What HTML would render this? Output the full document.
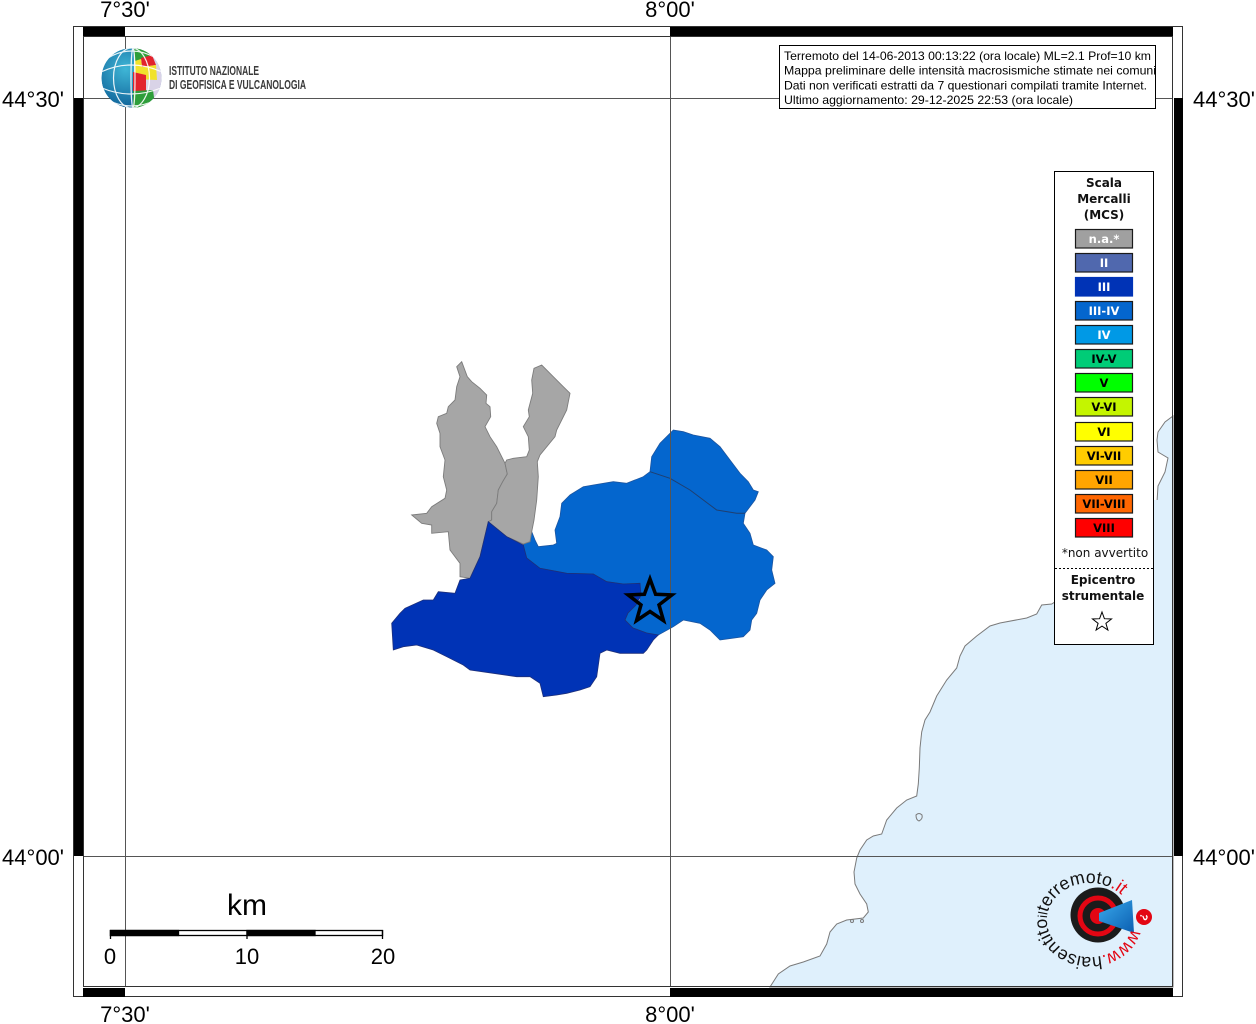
<!DOCTYPE html>
<html><head><meta charset="utf-8"><style>
html,body{margin:0;padding:0;background:#fff;}
svg{display:block;}
</style></head><body>
<svg width="1256" height="1024" viewBox="0 0 1256 1024" xmlns="http://www.w3.org/2000/svg">
<defs>
<radialGradient id="gg" cx="0.4" cy="0.35" r="0.7">
<stop offset="0" stop-color="#3fb6d6"/><stop offset="1" stop-color="#0c5d95"/>
</radialGradient>
<clipPath id="gc"><circle cx="131.5" cy="78" r="30"/></clipPath>
<linearGradient id="cone" x1="0" y1="0" x2="1" y2="1">
<stop offset="0" stop-color="#39a9ec"/><stop offset="1" stop-color="#0b5eb0"/>
</linearGradient>
</defs>
<rect width="1256" height="1024" fill="#fff"/>

<!-- sea -->
<path d="M1173,416 L1165,422 L1158,432 L1157,440 L1158,452 L1168,458 L1165,472 L1158,486 L1157,502 L1120,560 L1051.7,604 L1041.7,605 L1036.7,614 L1026.7,618 L1000,623 L990,626 L976.7,636 L965,646 L960,656 L956.7,668 L946.7,680 L936.7,696 L930,712 L925,720 L921.7,732 L920,748 L919.3,768 L918.3,784 L916.7,796 L906.7,800 L896.7,808 L886.7,820 L881.7,834 L873.3,836 L866.7,840 L860,850 L856.7,858 L854,872 L855,884 L860,894 L866.7,904 L868.3,912 L863.3,918 L846.7,920 L836.7,924 L830,932 L826.7,944 L820,956 L803.3,962 L790,966 L778.3,974 L770,987 L1173,987 Z" fill="#dff0fc" stroke="#7a7a7a" stroke-width="1"/>
<rect x="1153" y="500" width="20" height="150" fill="#dff0fc"/>
<path d="M916,815 q3,-3 6,0 q1,4 -3,6 q-3,-1 -3,-6z" fill="none" stroke="#7a7a7a" stroke-width="1"/>
<circle cx="852" cy="921" r="1.5" fill="none" stroke="#7a7a7a" stroke-width="1"/>
<circle cx="862" cy="921" r="1.5" fill="none" stroke="#7a7a7a" stroke-width="1"/>

<!-- light blue -->
<path d="M531.7,531.7 L535,540 L538.3,546.7 L553.3,545 L556.7,543.3 L555,530 L560,516.7 L561.7,503.3 L570,495 L583.3,486.7 L593.3,485 L613.3,481.7 L626.7,483.3 L643.3,476.7 L650,471.7 L651.7,456.7 L660,443.3 L673.3,430 L683.3,431.7 L693.3,435 L710,438.3 L720,446.7 L730,460 L740,473.3 L748.3,481.7 L753.3,490 L758.3,491.7 L755,500 L745,513.3 L743.3,523.3 L750,533.3 L753.3,545 L766.7,550 L773.3,556.7 L771.7,570 L775,583.3 L766.7,590 L760,600 L756.7,613.3 L751.7,620 L750,630 L743.3,636.7 L720,640 L710,630 L700,623.3 L683.3,620 L673.3,626.7 L658.3,635 L646.7,633 L633,628 L625,620 L628,613 L640,600 L640,583.3 L623.3,584 L606.7,581.7 L593.3,574 L566.7,573.3 L540,568.3 L526.7,560 L523.3,545 Z" fill="#0466ce" stroke="#1c55a0" stroke-width="0.8"/>
<path d="M650,471.7 L670,478.3 L690,490 L710,505 L716.7,510 L736.7,513.3 L745,513.3" fill="none" stroke="#1f3f70" stroke-width="1"/>

<!-- gray 1 -->
<path d="M461.7,361.7 L467.3,376.7 L471.7,381.7 L480,388.3 L486.7,395 L486,403.3 L490,406.7 L490.7,416.7 L485,426.7 L490,436.7 L496.7,446.7 L505,463.3 L507.3,474 L502.7,481.7 L498.3,490 L496.7,503.3 L491.7,511.7 L491.7,520 L488.3,521.7 L480,556.7 L470,578.3 L460,576.7 L460,563.3 L450,550 L448.3,531.7 L431.7,533.3 L431.7,525 L421.7,523.3 L411.7,515 L426.7,513.3 L431.7,506.7 L445,498.3 L446.7,490 L443.3,476.7 L445,460 L440,446.7 L440,433.3 L436.7,423.3 L438.3,416.7 L446.7,413.3 L448.3,406.7 L455,400 L456.7,386.7 L460,376.7 L456.7,366.7 Z" fill="#a6a6a6" stroke="#7c7c7c" stroke-width="0.9"/>
<!-- gray 2 -->
<path d="M505,463.3 L506.7,460 L513.3,458.3 L526.7,456.7 L529.3,450 L528.3,436.7 L523.3,426.7 L529.3,416.7 L528.3,410 L532.7,393.3 L531.7,380 L534,368.3 L541.7,365 L553.3,376.7 L563.3,386.7 L570,393.3 L566.7,410 L561.7,420 L556.7,430 L555,436.7 L540,455 L537.3,461.7 L538.3,476.7 L536.7,500 L534,520 L531.7,531.7 L530,541.7 L523.3,544 L506.7,536.7 L488.3,521.7 L491.7,520 L491.7,511.7 L496.7,503.3 L498.3,490 L502.7,481.7 L507.3,474 Z" fill="#a6a6a6" stroke="#7c7c7c" stroke-width="0.9"/>

<!-- dark blue -->
<path d="M488.3,521.7 L506.7,536.7 L523.3,545 L526.7,558 L540,568.3 L566.7,573.3 L593.3,574 L606.7,581.7 L623.3,584 L640,583.3 L641,595 L636,605 L628,613 L625,620 L633,628 L646.7,633 L658.3,635 L653.3,640 L646.7,650 L643.3,653.3 L620,653.3 L606.7,650 L600,653.3 L596.7,676.7 L590,686.7 L580,690 L566.7,693.3 L556.7,695 L543.3,696.7 L540,683.3 L530,676.7 L516.7,676.7 L493.3,673.3 L470,670 L463.3,665 L446.7,656.7 L433.3,650 L416.7,645 L403.3,646.7 L393.3,650 L391.7,623.3 L400,613.3 L405,608.3 L423.3,600 L433.3,600 L438.3,591.7 L455,593.3 L460,580 L470,578.3 L480,556.7 Z" fill="#0033b6" stroke="#1d2f7a" stroke-width="0.8"/>

<!-- grid -->
<g stroke="#555" stroke-width="1" fill="none">
<line x1="125.5" y1="36" x2="125.5" y2="987"/>
<line x1="670.5" y1="36" x2="670.5" y2="987"/>
<line x1="83" y1="98.5" x2="1173" y2="98.5"/>
<line x1="83" y1="856.5" x2="1173" y2="856.5"/>
</g>

<!-- epicenter star -->
<polygon points="650,579 655.6,594.3 671.9,594.9 659,604.9 663.5,620.6 650,611.5 636.5,620.6 641,604.9 628.1,594.9 644.4,594.3" fill="none" stroke="#000" stroke-width="3.5" stroke-linejoin="miter"/>

<!-- frame -->
<rect x="73.5" y="26.5" width="1109" height="970" fill="none" stroke="#333" stroke-width="1"/>
<rect x="83.5" y="36.5" width="1089" height="950" fill="none" stroke="#333" stroke-width="1"/>
<g fill="#000">
<rect x="83" y="27" width="42" height="9"/>
<rect x="670" y="27" width="503" height="9"/>
<rect x="83" y="988" width="42" height="9"/>
<rect x="670" y="988" width="503" height="9"/>
<rect x="74" y="98" width="9" height="758"/>
<rect x="1174" y="98" width="9" height="758"/>
</g>

<!-- labels -->
<g font-family="Liberation Sans, Arial, sans-serif" font-size="22" fill="#000">
<text x="125" y="17" text-anchor="middle">7°30'</text>
<text x="670" y="17" text-anchor="middle">8°00'</text>
<text x="125" y="1022" text-anchor="middle">7°30'</text>
<text x="670" y="1022" text-anchor="middle">8°00'</text>
<text x="64" y="107" text-anchor="end">44°30'</text>
<text x="64" y="865" text-anchor="end">44°00'</text>
<text x="1193" y="107">44°30'</text>
<text x="1193" y="865">44°00'</text>
</g>

<!-- INGV logo -->
<g clip-path="url(#gc)">
<circle cx="131.5" cy="78" r="30" fill="url(#gg)"/>
<rect x="134" y="46" width="32" height="66" fill="#d9d3e7"/>
<polygon points="134,46 149,46 151,57 135,61" fill="#2e9e3a"/>
<polygon points="141,58 152,55 156,65 142,67" fill="#e2232d"/>
<polygon points="135,61 141,59 142,67 156,65 157,80 134,79" fill="#f1e22c"/>
<polygon points="133,72 146,75 146,91 133,91" fill="#e2232d"/>
<polygon points="133,91 153,90 156,112 133,112" fill="#2e9e3a"/>
<g stroke="#fff" stroke-width="1.2" fill="none" opacity="0.9">
<ellipse cx="133" cy="78" rx="2" ry="30"/>
<ellipse cx="131.5" cy="78" rx="18" ry="30"/>
<path d="M101,72 Q131,58 162,72"/>
<path d="M102,88 Q131,100 161,88"/>
<path d="M108,58 Q131,44 156,58"/>
<path d="M108,100 Q131,112 156,100"/>
</g>
</g>
<g font-family="Liberation Sans, Arial, sans-serif" font-size="12.5" font-weight="bold" fill="#3a3a3a">
<text x="169" y="75" textLength="90" lengthAdjust="spacingAndGlyphs">ISTITUTO NAZIONALE</text>
<text x="169" y="89" textLength="137" lengthAdjust="spacingAndGlyphs">DI GEOFISICA E VULCANOLOGIA</text>
</g>

<!-- info box -->
<rect x="779.5" y="45.5" width="376" height="63" fill="#fff" stroke="#000" stroke-width="1"/>
<g font-family="Liberation Sans, Arial, sans-serif" font-size="12" fill="#000">
<text x="784" y="60" textLength="367" lengthAdjust="spacingAndGlyphs">Terremoto del 14-06-2013 00:13:22 (ora locale) ML=2.1 Prof=10 km</text>
<text x="784" y="74.7" textLength="372" lengthAdjust="spacingAndGlyphs">Mappa preliminare delle intensità macrosismiche stimate nei comuni</text>
<text x="784" y="89.4" textLength="363" lengthAdjust="spacingAndGlyphs">Dati non verificati estratti da 7 questionari compilati tramite Internet.</text>
<text x="784" y="104" textLength="289" lengthAdjust="spacingAndGlyphs">Ultimo aggiornamento: 29-12-2025 22:53 (ora locale)</text>
</g>

<!-- legend -->
<rect x="1054.5" y="171.5" width="99" height="473" fill="#fff" stroke="#000" stroke-width="1"/>
<g font-family="DejaVu Sans, Verdana, sans-serif" font-weight="bold" font-size="12" text-anchor="middle" fill="#111">
<text x="1104" y="187">Scala</text>
<text x="1104" y="203">Mercalli</text>
<text x="1104" y="219">(MCS)</text>
</g>
<g stroke="#1a1a1a" stroke-width="1.2">
<rect x="1075.5" y="229.5" width="57" height="18.5" fill="#a0a0a0"/>
<rect x="1075.5" y="253.5" width="57" height="18.5" fill="#5068ae"/>
<rect x="1075.5" y="277.5" width="57" height="18.5" fill="#0033b6" stroke="#0033b6"/>
<rect x="1075.5" y="301.5" width="57" height="18.5" fill="#0466ce"/>
<rect x="1075.5" y="325.5" width="57" height="18.5" fill="#0099e6"/>
<rect x="1075.5" y="349.5" width="57" height="18.5" fill="#00cc77"/>
<rect x="1075.5" y="373.5" width="57" height="18.5" fill="#00ff00"/>
<rect x="1075.5" y="397.5" width="57" height="18.5" fill="#c4f500"/>
<rect x="1075.5" y="422.5" width="57" height="18.5" fill="#ffff00"/>
<rect x="1075.5" y="446.5" width="57" height="18.5" fill="#ffcc00"/>
<rect x="1075.5" y="470.5" width="57" height="18.5" fill="#ffa500"/>
<rect x="1075.5" y="494.5" width="57" height="18.5" fill="#ff6600"/>
<rect x="1075.5" y="518.5" width="57" height="18.5" fill="#ff0000"/>
</g>
<g font-family="DejaVu Sans, Verdana, sans-serif" font-weight="bold" font-size="11.5" text-anchor="middle">
<text x="1104" y="243" fill="#fff">n.a.*</text>
<text x="1104" y="267" fill="#fff">II</text>
<text x="1104" y="291" fill="#fff">III</text>
<text x="1104" y="315" fill="#fff">III-IV</text>
<text x="1104" y="339" fill="#fff">IV</text>
<text x="1104" y="363" fill="#000">IV-V</text>
<text x="1104" y="387" fill="#000">V</text>
<text x="1104" y="411" fill="#000">V-VI</text>
<text x="1104" y="436" fill="#000">VI</text>
<text x="1104" y="460" fill="#000">VI-VII</text>
<text x="1104" y="484" fill="#000">VII</text>
<text x="1104" y="508" fill="#000">VII-VIII</text>
<text x="1104" y="532" fill="#000">VIII</text>
</g>
<text x="1105" y="557" font-family="DejaVu Sans, Verdana, sans-serif" font-size="12" text-anchor="middle" fill="#111">*non avvertito</text>
<line x1="1055" y1="568.5" x2="1153" y2="568.5" stroke="#000" stroke-width="1" stroke-dasharray="2,2"/>
<g font-family="DejaVu Sans, Verdana, sans-serif" font-weight="bold" font-size="12" text-anchor="middle" fill="#111">
<text x="1103" y="584">Epicentro</text>
<text x="1103" y="600">strumentale</text>
</g>
<polygon points="1102,612 1104.4,618.7 1111.5,619 1105.9,623.3 1107.9,630.1 1102,626.1 1096.1,630.1 1098.1,623.3 1092.5,619 1099.6,618.7" fill="#fff" stroke="#000" stroke-width="1"/>

<!-- scale bar -->
<text x="247" y="915" font-family="Liberation Sans, Arial, sans-serif" font-size="30" text-anchor="middle" fill="#000">km</text>
<g stroke="#000" stroke-width="1.3">
<rect x="110.5" y="930.5" width="272" height="5" fill="#fff"/>
<rect x="110.5" y="930.5" width="68" height="5" fill="#000"/>
<rect x="247" y="930.5" width="68" height="5" fill="#000"/>
<line x1="110.5" y1="930" x2="110.5" y2="939"/>
<line x1="247" y1="930" x2="247" y2="939"/>
<line x1="382.5" y1="930" x2="382.5" y2="939"/>
</g>
<g font-family="Liberation Sans, Arial, sans-serif" font-size="22" text-anchor="middle" fill="#000">
<text x="110" y="964">0</text>
<text x="247" y="964">10</text>
<text x="383" y="964">20</text>
</g>

<!-- haisentitoilterremoto logo -->
<circle cx="1098" cy="915" r="27.5" fill="#1b1b1b"/>
<circle cx="1098" cy="916" r="18" fill="none" stroke="#e30613" stroke-width="5"/>
<circle cx="1098" cy="916" r="8" fill="#e30613"/>
<polygon points="1099,913 1132,900 1134,933 1099,921" fill="url(#cone)"/>
<circle cx="1144" cy="917" r="8" fill="#e30613"/>
<text x="1144" y="921" font-family="Liberation Sans, Arial, sans-serif" font-size="11" font-weight="bold" text-anchor="middle" fill="#fff" transform="rotate(110 1144 917)">?</text>
<path id="ring" d="M1131.6,928.8 A43 37 0 1 1 1124.2,897.8" fill="none"/>
<text font-family="Liberation Sans, Arial, sans-serif" font-size="18" fill="#111">
<textPath href="#ring" textLength="214" lengthAdjust="spacingAndGlyphs"><tspan fill="#e30613">www.</tspan>haisentito<tspan font-size="13">il</tspan>terremoto<tspan fill="#e30613">.it</tspan></textPath>
</text>
</svg>
</body></html>
